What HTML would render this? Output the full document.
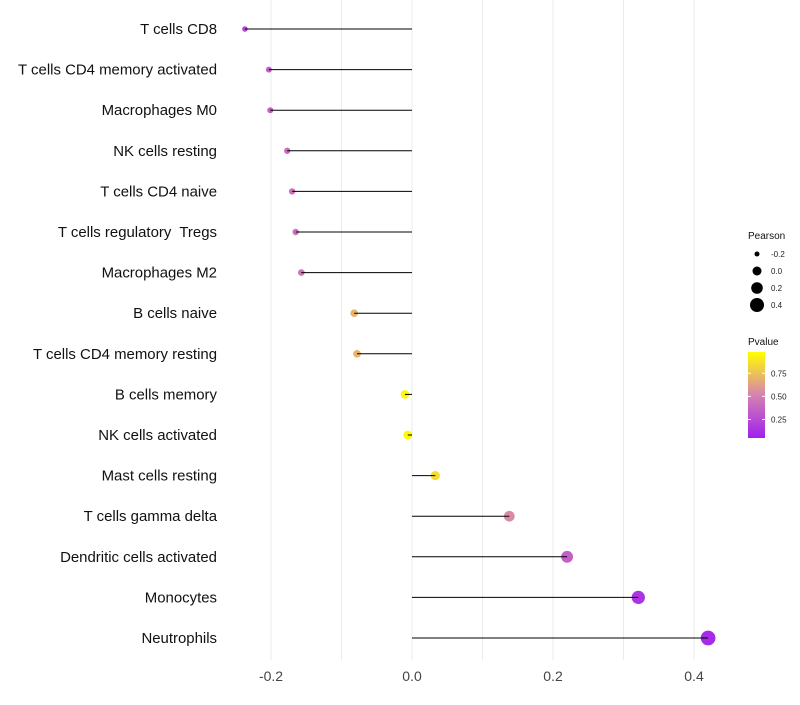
<!DOCTYPE html>
<html><head><meta charset="utf-8"><style>
body{margin:0;background:#fff;font-family:"Liberation Sans",sans-serif}
svg text{font-family:"Liberation Sans",sans-serif;white-space:pre}
</style></head><body>
<svg id="chart" width="800" height="700" xmlns="http://www.w3.org/2000/svg">
<g id="grid"></g><g id="marks"></g><g id="stems"></g><g id="labels"></g>
<g id="legend"></g>
</svg>
<script>
const categories=["T cells CD8","T cells CD4 memory activated","Macrophages M0","NK cells resting","T cells CD4 naive","T cells regulatory  Tregs","Macrophages M2","B cells naive","T cells CD4 memory resting","B cells memory","NK cells activated","Mast cells resting","T cells gamma delta","Dendritic cells activated","Monocytes","Neutrophils"];
const pearson=[-0.237,-0.203,-0.201,-0.177,-0.170,-0.165,-0.157,-0.082,-0.078,-0.010,-0.006,0.033,0.138,0.220,0.321,0.420];
const pvalues=[0.22,0.35,0.35,0.4,0.42,0.45,0.45,0.7,0.7,0.95,0.97,0.85,0.55,0.35,0.15,0.1];
const xTicks=[-0.2,0.0,0.2,0.4];
const sizeLegend=[-0.2,0.0,0.2,0.4];
const colorTicks=[0.25,0.5,0.75];
const NS="http://www.w3.org/2000/svg";
const x=v=>412+v*705;
const y=i=>29+i*40.6;
const r=v=>Math.max(1.5,4.4+7*v);
function col(p){const t=Math.max(0,Math.min(1,(p-0.05)/0.93));
 const a=[160,32,240],m=[214,130,176],b=[255,255,0];let c;
 if(t<0.5){const u=t/0.5;c=a.map((k,j)=>k+(m[j]-k)*u);}else{const u=(t-0.5)/0.5;c=m.map((k,j)=>k+(b[j]-k)*u);}
 return `rgb(${c.map(Math.round).join(',')})`;}
function mk(tag,at,parent,txt){const e=document.createElementNS(NS,tag);for(const k in at)e.setAttribute(k,at[k]);if(txt!==undefined)e.textContent=txt;document.getElementById(parent).appendChild(e);return e;}
for(let k=-2;k<=4;k++){const gx=x(k/10);
 const g=mk('line',{x1:gx,x2:gx,y1:0,y2:660,stroke:'#ebebeb','stroke-width':1},'grid');
 
 }
xTicks.forEach(t=>{const e=mk('text',{x:x(t),y:681,'text-anchor':'middle','font-size':14,fill:'#444'},'labels',t.toFixed(1));
 
 });
categories.forEach((c,i)=>{
 const l=mk('text',{x:217,y:y(i)+5,'text-anchor':'end','font-size':14.95,fill:'#111','xml:space':'preserve'},'labels',c);
 
 
 const p=mk('circle',{cx:x(pearson[i]),cy:y(i),r:r(pearson[i]),fill:col(pvalues[i])},'marks');
 
 
 const s=mk('line',{x1:x(0),x2:x(pearson[i]),y1:y(i),y2:y(i),stroke:'#000','stroke-width':1},'stems');
 
 
});
const L='legend';
mk('text',{x:748,y:239,'font-size':10,fill:'#111'},L,'Pearson');
sizeLegend.forEach((v,i)=>{const cy=254+i*17;
 const c=mk('circle',{cx:757,cy:cy,r:[2.5,4.5,5.8,7][i],fill:'#000'},L);
 
 
 mk('text',{x:771,y:cy+3,'font-size':8,fill:'#222'},L,v.toFixed(1));});
mk('text',{x:748,y:345,'font-size':10,fill:'#111'},L,'Pvalue');
const defs=mk('defs',{},L);defs.id='d';
const gr=mk('linearGradient',{id:'pg',x1:0,y1:1,x2:0,y2:0},'d');gr.id='pg';
[0,0.25,0.5,0.75,1].forEach(o=>mk('stop',{offset:o,'stop-color':col(0.05+o*0.93)},'pg'));
const bar=mk('rect',{x:748,y:352,width:17,height:86,fill:'url(#pg)'},L);


const py=p=>438-(p-0.05)/0.93*86;
colorTicks.forEach(t=>{mk('line',{x1:748,x2:751,y1:py(t),y2:py(t),stroke:'#fff'},L);mk('line',{x1:762,x2:765,y1:py(t),y2:py(t),stroke:'#fff'},L);
 mk('text',{x:771,y:py(t)+3,'font-size':8,fill:'#222'},L,t.toFixed(2));});
</script>
</body></html>
